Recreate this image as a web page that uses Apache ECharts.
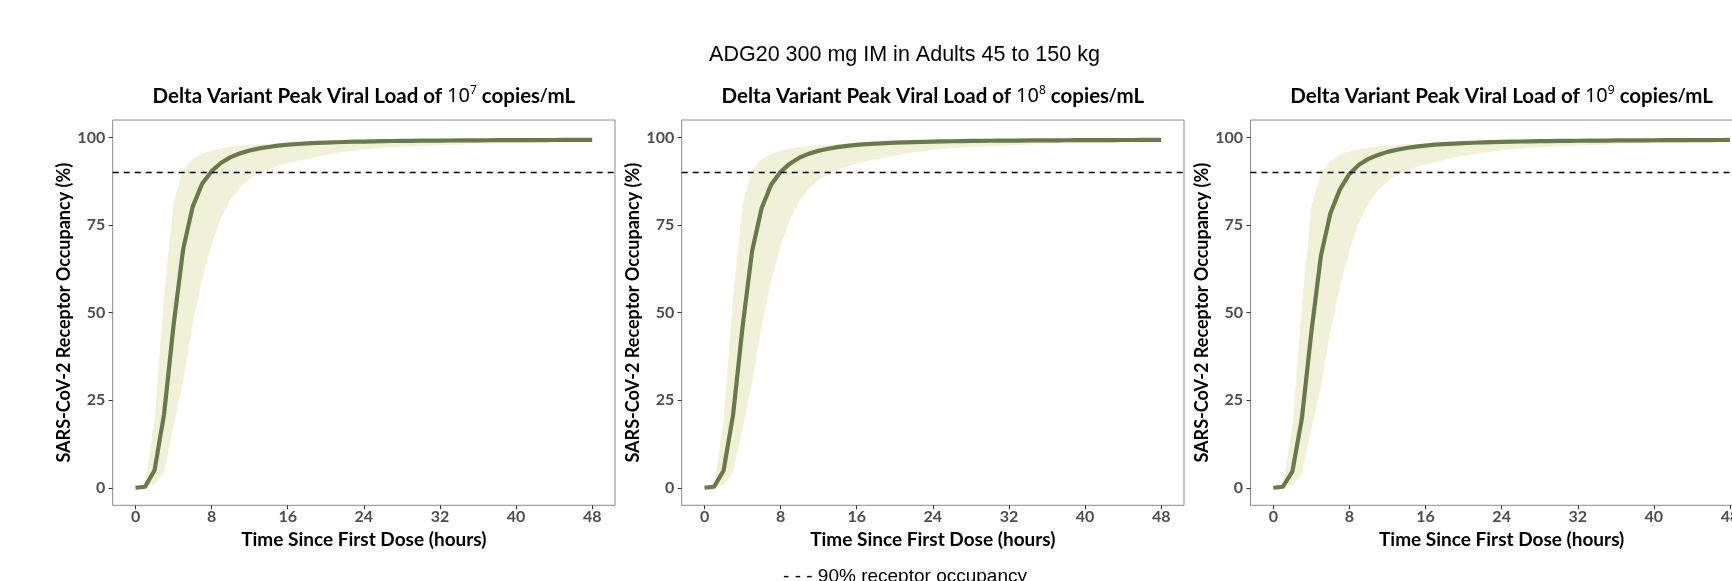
<!DOCTYPE html>
<html>
<head>
<meta charset="utf-8">
<script src="https://cdn.jsdelivr.net/npm/echarts@6/dist/echarts.min.js"></script>
<style>
html,body{margin:0;padding:0;background:#ffffff;}
#c{width:1732px;height:581px;}
</style>
</head>
<body>
<div id="c"></div>
<script>
// ---------------- DATA ----------------
const hours = [0,1,2,3,4,5,6,7,8,9,10,11,12,13,14,15,16,17,18,19,20,21,22,23,24,25,26,27,28,29,30,31,32,33,34,35,36,37,38,39,40,41,42,43,44,45,46,47,48];
const xTickValues = [0,8,16,24,32,40,48];
const yTickValues = [0,25,50,75,100];
const occupancyThreshold = 90;
const mainTitle = 'ADG20 300 mg IM in Adults 45 to 150 kg';
const legendText = '- - - 90% receptor occupancy';
const xAxisName = 'Time Since First Dose (hours)';
const yAxisName = 'SARS-CoV-2 Receptor Occupancy (%)';
const viralLoadExponents = ['7','8','9'];

// Peak viral load 10^7 copies/mL
const median1e7 = [0,0.3,5.0,21.0,46.5,68.0,80.2,86.8,90.4,92.8,94.4,95.5,96.3,96.9,97.3,97.7,97.95,98.15,98.3,98.45,98.55,98.65,98.72,98.8,98.85,98.9,98.95,99.0,99.03,99.06,99.09,99.11,99.13,99.15,99.17,99.19,99.2,99.22,99.23,99.24,99.25,99.26,99.27,99.28,99.29,99.3,99.3,99.31,99.32];
const lower1e7  = [0,0.05,0.9,4.5,17.5,30.5,46.5,59.5,69.5,77.2,82.3,85.8,88.2,89.8,90.9,91.9,92.7,93.3,93.9,94.5,95.0,95.5,95.9,96.2,96.6,96.8,97.0,97.2,97.35,97.5,97.6,97.7,97.8,97.9,98.0,98.1,98.2,98.25,98.35,98.4,98.45,98.5,98.55,98.6,98.65,98.7,98.72,98.75,98.8];
const upper1e7  = [0,0.8,19.5,55,81.5,90.8,93.9,95.4,96.3,96.9,97.35,97.65,97.9,98.05,98.2,98.35,98.5,98.6,98.7,98.8,98.88,98.95,99.0,99.05,99.1,99.14,99.18,99.22,99.25,99.28,99.31,99.33,99.35,99.37,99.39,99.41,99.43,99.45,99.47,99.48,99.5,99.51,99.53,99.54,99.55,99.57,99.58,99.59,99.6];

// Peak viral load 10^8 copies/mL
const median1e8 = [0,0.3,4.9,20.8,46.0,67.6,79.8,86.5,90.2,92.6,94.3,95.4,96.2,96.8,97.25,97.6,97.9,98.1,98.28,98.42,98.53,98.63,98.7,98.78,98.84,98.89,98.94,98.98,99.02,99.05,99.08,99.1,99.12,99.14,99.16,99.18,99.2,99.21,99.22,99.24,99.25,99.26,99.27,99.28,99.29,99.29,99.3,99.31,99.31];
const lower1e8  = [0,0.05,0.85,4.3,17.0,30.0,46.0,59.0,69.0,76.8,82.0,85.5,88.0,89.6,90.8,91.8,92.6,93.2,93.8,94.4,94.9,95.4,95.8,96.1,96.5,96.7,96.9,97.1,97.3,97.45,97.55,97.65,97.75,97.85,97.95,98.05,98.15,98.2,98.3,98.35,98.4,98.45,98.5,98.55,98.6,98.65,98.68,98.72,98.76];
const upper1e8  = [0,0.8,19.2,54.5,81.0,90.6,93.8,95.3,96.2,96.85,97.3,97.6,97.85,98.0,98.15,98.3,98.45,98.55,98.65,98.75,98.83,98.9,98.96,99.02,99.07,99.11,99.15,99.19,99.22,99.25,99.28,99.31,99.33,99.35,99.37,99.39,99.41,99.43,99.45,99.46,99.48,99.5,99.51,99.52,99.54,99.55,99.56,99.58,99.59];

// Peak viral load 10^9 copies/mL
const median1e9 = [0,0.3,4.6,19.8,44.5,66.2,78.4,85.2,89.6,92.2,93.9,95.0,95.9,96.5,97.0,97.4,97.7,97.95,98.12,98.28,98.4,98.5,98.6,98.68,98.75,98.81,98.86,98.91,98.95,98.99,99.02,99.05,99.07,99.1,99.12,99.14,99.16,99.18,99.19,99.21,99.22,99.23,99.24,99.25,99.26,99.27,99.28,99.29,99.3];
const lower1e9  = [0,0.05,0.8,4.0,16.5,29.0,44.5,57.5,67.5,75.8,81.2,84.9,87.5,89.3,90.5,91.5,92.3,93.0,93.6,94.2,94.7,95.2,95.6,96.0,96.3,96.6,96.8,97.0,97.2,97.35,97.5,97.6,97.7,97.8,97.9,98.0,98.1,98.15,98.25,98.3,98.35,98.4,98.45,98.5,98.55,98.6,98.63,98.66,98.7];
const upper1e9  = [0,0.7,17.5,52,80.5,89.8,93.3,95.0,96.0,96.65,97.1,97.45,97.7,97.9,98.05,98.2,98.35,98.47,98.58,98.68,98.76,98.84,98.9,98.96,99.01,99.06,99.1,99.14,99.18,99.21,99.24,99.27,99.3,99.32,99.34,99.36,99.38,99.4,99.42,99.44,99.45,99.47,99.48,99.5,99.51,99.52,99.54,99.55,99.56];

// ---------------- LAYOUT / STYLE ----------------
const panelData = [
  {median: median1e7, lower: lower1e7, upper: upper1e7},
  {median: median1e8, lower: lower1e8, upper: upper1e8},
  {median: median1e9, lower: lower1e9, upper: upper1e9}
];
const gridLefts = [112.7, 681.7, 1250.5];
const GRID_TOP = 120, GRID_W = 502.3, GRID_H = 385.3;
const LINE_COLOR = '#687a4a';
const BAND_COLOR = '#f1f1da';
const LABEL_FONT = 'Lato';

const grids = [], xAxes = [], yAxes = [], series = [], graphics = [];

panelData.forEach((p, i) => {
  grids.push({
    left: gridLefts[i], top: GRID_TOP, width: GRID_W, height: GRID_H,
    show: true, borderColor: '#8a8a8a', borderWidth: 1, backgroundColor: 'transparent',
    containLabel: false, outerBoundsMode: 'none'
  });
  xAxes.push({
    gridIndex: i, type: 'value', min: -2.4, max: 50.4, position: 'bottom',
    name: xAxisName, nameLocation: 'middle', nameGap: 22,
    nameTextStyle: {fontFamily: LABEL_FONT, fontWeight: 'bold', fontSize: 19, color: '#000'},
    axisLine: {show: false, onZero: false},
    axisTick: {show: true, length: 4, customValues: xTickValues, lineStyle: {color: '#333', width: 1}},
    axisLabel: {customValues: xTickValues, margin: 4, fontFamily: LABEL_FONT, fontWeight: 'bold', fontSize: 16, color: '#4d4d4d'},
    splitLine: {show: false}
  });
  yAxes.push({
    gridIndex: i, type: 'value', min: -5, max: 105, position: 'left',
    name: yAxisName, nameLocation: 'middle', nameRotate: 90, nameGap: 30,
    nameTextStyle: {fontFamily: LABEL_FONT, fontWeight: 'bold', fontSize: 18, color: '#000'},
    axisLine: {show: false, onZero: false},
    axisTick: {show: true, length: 4, customValues: yTickValues, lineStyle: {color: '#333', width: 1}},
    axisLabel: {customValues: yTickValues, margin: 7.5, fontFamily: LABEL_FONT, fontWeight: 'bold', fontSize: 16, color: '#4d4d4d'},
    splitLine: {show: false}
  });
  // confidence band
  series.push({
    type: 'custom', xAxisIndex: i, yAxisIndex: i, silent: true, z: 1,
    data: hours.map((h, k) => [h, p.lower[k], p.upper[k]]),
    encode: {x: 0, y: [1, 2]},
    renderItem: function (params, api) {
      if (params.dataIndex !== 0) return null;
      const pts = [];
      for (let k = 0; k < hours.length; k++) pts.push(api.coord([hours[k], p.upper[k]]));
      for (let k = hours.length - 1; k >= 0; k--) pts.push(api.coord([hours[k], p.lower[k]]));
      return {type: 'polygon', shape: {points: pts}, style: {fill: BAND_COLOR, stroke: null}};
    }
  });
  // median line + 90% reference
  series.push({
    type: 'line', xAxisIndex: i, yAxisIndex: i, z: 3,
    data: hours.map((h, k) => [h, p.median[k]]),
    symbol: 'none', smooth: false, silent: true,
    lineStyle: {color: LINE_COLOR, width: 4.2, cap: 'butt', join: 'round'},
    markLine: {
      silent: true, symbol: ['none', 'none'], label: {show: false},
      lineStyle: {color: '#000', width: 1.3, type: [6, 5]},
      data: [{yAxis: occupancyThreshold}]
    }
  });
  graphics.push({
    type: 'text', x: gridLefts[i] + GRID_W / 2, y: 96.5,
    style: {
      text: '{b|Delta Variant Peak Viral Load of }{n|10}{s|' + viralLoadExponents[i] + '}{b| copies}{n|/}{b|mL}',
      align: 'center', verticalAlign: 'middle',
      rich: {
        b: {fontFamily: LABEL_FONT, fontWeight: 'bold', fontSize: 20.5, lineHeight: 24, fill: '#000'},
        n: {fontFamily: 'Noto Sans', fontWeight: 'normal', fontSize: 20, lineHeight: 24, fill: '#000'},
        s: {fontFamily: 'Noto Sans', fontWeight: 'normal', fontSize: 12, lineHeight: 14, verticalAlign: 'top', fill: '#000'}
      }
    }
  });
});

graphics.push({
  type: 'text', x: 904.5, y: 55,
  style: {text: mainTitle, align: 'center', verticalAlign: 'middle', fontFamily: 'Liberation Sans', fontSize: 21.5, fill: '#000'}
});
graphics.push({
  type: 'text', x: 905, y: 577,
  style: {text: legendText, align: 'center', verticalAlign: 'middle', fontFamily: 'Liberation Sans', fontSize: 19, fill: '#000'}
});

const chart = echarts.init(document.getElementById('c'), null, {renderer: 'canvas', width: 1732, height: 581});
chart.setOption({
  animation: false,
  backgroundColor: '#ffffff',
  grid: grids, xAxis: xAxes, yAxis: yAxes, series: series, graphic: graphics
});
</script>
</body>
</html>
